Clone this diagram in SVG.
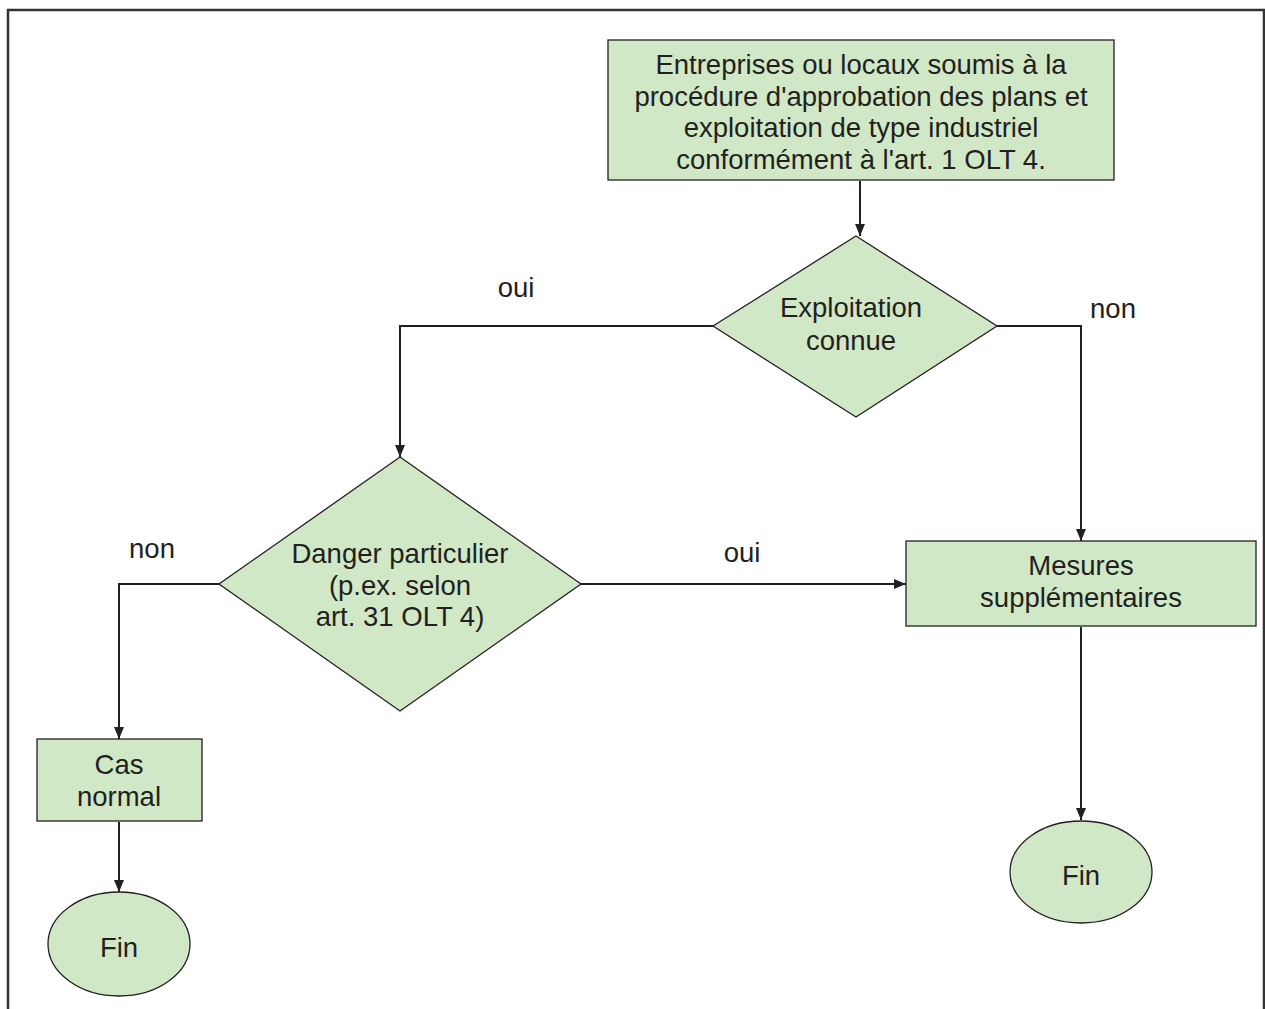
<svg xmlns="http://www.w3.org/2000/svg" width="1265" height="1009" viewBox="0 0 1265 1009">
<style>
.n{fill:#d0e8c6;stroke:#231f20;stroke-width:1.3}
.t{font-family:"Liberation Sans",Arial,sans-serif;font-size:27.5px;fill:#231f20;text-anchor:middle}
.c{fill:none;stroke:#231f20;stroke-width:2}
</style>
<defs>
<marker id="a" viewBox="0 0 12 10" refX="12" refY="5" markerWidth="12" markerHeight="10" markerUnits="userSpaceOnUse" orient="auto">
<path d="M0,0 L12,5 L0,10 z" fill="#231f20"/>
</marker>
</defs>
<rect width="1265" height="1009" fill="#fff"/>
<path d="M8,1009 V10 H1264 V1009" fill="none" stroke="#333" stroke-width="2.5"/>
<g id="connectors">
<path class="c" d="M860,181 V236" marker-end="url(#a)"/>
<path class="c" d="M713,326 H400 V457" marker-end="url(#a)"/>
<path class="c" d="M997,326 H1081 V541" marker-end="url(#a)"/>
<path class="c" d="M581,584 H906" marker-end="url(#a)"/>
<path class="c" d="M219,584 H119 V739" marker-end="url(#a)"/>
<path class="c" d="M1081,627 V820" marker-end="url(#a)"/>
<path class="c" d="M119,822 V892" marker-end="url(#a)"/>
<text class="t" x="516" y="297">oui</text>
<text class="t" x="1113" y="318">non</text>
<text class="t" x="742" y="562">oui</text>
<text class="t" x="152" y="558">non</text>
</g>
<g id="start">
<rect class="n" x="608" y="40" width="506" height="140"/>
<text class="t" x="861" y="74">Entreprises ou locaux soumis à la</text>
<text class="t" x="861" y="106">procédure d'approbation des plans et</text>
<text class="t" x="861" y="137">exploitation de type industriel</text>
<text class="t" x="861" y="169">conformément à l'art. 1 OLT 4.</text>
</g>
<g id="d1">
<polygon class="n" points="856,236 997,326 856,417 713,326"/>
<text class="t" x="851" y="317">Exploitation</text>
<text class="t" x="851" y="350">connue</text>
</g>
<g id="d2">
<polygon class="n" points="400,457 581,584 400,711 219,584"/>
<text class="t" x="400" y="563">Danger particulier</text>
<text class="t" x="400" y="595">(p.ex. selon</text>
<text class="t" x="400" y="626">art. 31 OLT 4)</text>
</g>
<g id="mesures">
<rect class="n" x="906" y="541" width="350" height="85"/>
<text class="t" x="1081" y="575">Mesures</text>
<text class="t" x="1081" y="607">supplémentaires</text>
</g>
<g id="cas">
<rect class="n" x="37" y="739" width="165" height="82"/>
<text class="t" x="119" y="774">Cas</text>
<text class="t" x="119" y="806">normal</text>
</g>
<g id="fin1">
<ellipse class="n" cx="1081" cy="872" rx="71" ry="51"/>
<text class="t" x="1081" y="885">Fin</text>
</g>
<g id="fin2">
<ellipse class="n" cx="119" cy="944" rx="71" ry="52"/>
<text class="t" x="119" y="957">Fin</text>
</g>
</svg>
